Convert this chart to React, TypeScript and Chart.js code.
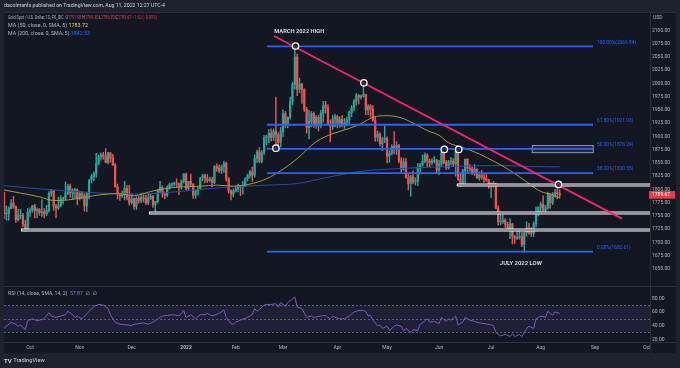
import React, { useEffect, useRef } from "react";
import { Chart, registerables } from "chart.js";
Chart.register(...registerables);

type Candle = [number, number, number, number]; // open, high, low, close

// Daily candles, Gold Spot / USD (FX_IDC). Bar index 0 = 1 Oct 2021 (trading days).
const sep2021: Candle[] = [
  [1794, 1795, 1745, 1754], [1754, 1769, 1742, 1754], [1754, 1767, 1742, 1764], [1764, 1781, 1763, 1774],
  [1774, 1787, 1764, 1768], [1768, 1769, 1737, 1743], [1743, 1763, 1740, 1750], [1750, 1762, 1744, 1751],
  [1751, 1755, 1729, 1734], [1734, 1742, 1721, 1726], [1726, 1764, 1723, 1757],
];
const oct2021: Candle[] = [
  [1757, 1765, 1749, 1761], [1761, 1770, 1757, 1769], [1769, 1772, 1746, 1760], [1760, 1765, 1746, 1762],
  [1762, 1764, 1751, 1756], [1756, 1781, 1749, 1757], [1757, 1764, 1746, 1754], [1754, 1770, 1750, 1760],
  [1760, 1796, 1757, 1793], [1793, 1800, 1787, 1797], [1797, 1798, 1760, 1768], [1768, 1772, 1746, 1765],
  [1765, 1785, 1762, 1769], [1769, 1788, 1767, 1782], [1782, 1785, 1772, 1784], [1784, 1814, 1780, 1793],
  [1793, 1810, 1790, 1806], [1806, 1810, 1785, 1793], [1793, 1801, 1782, 1798], [1798, 1802, 1783, 1799],
  [1799, 1801, 1771, 1783],
];
const nov2021: Candle[] = [
  [1783, 1797, 1780, 1793], [1793, 1796, 1782, 1788], [1788, 1792, 1759, 1769], [1769, 1795, 1758, 1792],
  [1792, 1818, 1782, 1818], [1818, 1828, 1812, 1824], [1824, 1833, 1816, 1830], [1830, 1868, 1823, 1849],
  [1849, 1865, 1846, 1862], [1862, 1869, 1855, 1865], [1865, 1870, 1857, 1863], [1863, 1877, 1850, 1851],
  [1851, 1870, 1848, 1869], [1869, 1870, 1851, 1859], [1859, 1866, 1845, 1846], [1846, 1849, 1804, 1805],
  [1805, 1810, 1782, 1790], [1790, 1793, 1779, 1788], [1788, 1797, 1785, 1790], [1790, 1815, 1780, 1802],
  [1802, 1807, 1780, 1785], [1785, 1808, 1770, 1775],
];
const dec2021: Candle[] = [
  [1775, 1792, 1772, 1782], [1782, 1784, 1762, 1768], [1768, 1786, 1762, 1783], [1783, 1787, 1774, 1779],
  [1779, 1793, 1775, 1785], [1785, 1793, 1776, 1783], [1783, 1789, 1771, 1775], [1775, 1791, 1771, 1783],
  [1783, 1792, 1781, 1787], [1787, 1789, 1766, 1771], [1771, 1778, 1753, 1777], [1777, 1800, 1774, 1798],
  [1798, 1815, 1794, 1804], [1804, 1807, 1785, 1791], [1791, 1795, 1782, 1789], [1789, 1807, 1786, 1803],
  [1803, 1812, 1800, 1809], [1809, 1812, 1805, 1811], [1811, 1814, 1806, 1811], [1811, 1820, 1805, 1810],
  [1810, 1812, 1790, 1805], [1805, 1818, 1800, 1815], [1815, 1830, 1812, 1829],
];
const jan2022: Candle[] = [
  [1829, 1831, 1799, 1801], [1801, 1815, 1798, 1815], [1815, 1829, 1806, 1810], [1810, 1811, 1783, 1789],
  [1789, 1799, 1783, 1797], [1797, 1805, 1789, 1801], [1801, 1822, 1800, 1822], [1822, 1829, 1816, 1826],
  [1826, 1829, 1812, 1821], [1821, 1828, 1813, 1817], [1817, 1823, 1814, 1819], [1819, 1823, 1805, 1813],
  [1813, 1845, 1811, 1843], [1843, 1848, 1834, 1840], [1840, 1846, 1831, 1835], [1835, 1846, 1830, 1843],
  [1843, 1853, 1832, 1849], [1849, 1851, 1816, 1820], [1820, 1822, 1793, 1797], [1797, 1799, 1780, 1791],
  [1791, 1801, 1786, 1797],
];
const feb2022: Candle[] = [
  [1797, 1807, 1795, 1801], [1801, 1810, 1795, 1807], [1807, 1808, 1788, 1805], [1805, 1815, 1791, 1807],
  [1807, 1822, 1805, 1820], [1820, 1829, 1816, 1826], [1826, 1836, 1821, 1833], [1833, 1842, 1815, 1827],
  [1827, 1865, 1823, 1859], [1859, 1874, 1851, 1871], [1871, 1879, 1850, 1853], [1853, 1873, 1850, 1870],
  [1870, 1902, 1866, 1898], [1898, 1902, 1884, 1898], [1898, 1913, 1888, 1906], [1906, 1914, 1891, 1898],
  [1898, 1914, 1892, 1910], [1910, 1974, 1878, 1903], [1903, 1907, 1878, 1889], [1889, 1917, 1880, 1909],
];
const mar2022: Candle[] = [
  [1909, 1950, 1900, 1943], [1943, 1947, 1917, 1922], [1922, 1937, 1916, 1936], [1936, 1974, 1933, 1966],
  [1966, 2002, 1960, 1998], [1998, 2070, 1989, 2050], [2050, 2055, 1977, 1989], [1989, 2010, 1982, 1999],
  [1999, 2000, 1962, 1988], [1988, 1990, 1947, 1951], [1951, 1955, 1906, 1917], [1917, 1949, 1895, 1928],
  [1928, 1947, 1918, 1943], [1943, 1946, 1917, 1921], [1921, 1939, 1915, 1936], [1936, 1940, 1910, 1921],
  [1921, 1949, 1916, 1944], [1944, 1966, 1927, 1958], [1958, 1966, 1944, 1954], [1954, 1960, 1921, 1922],
  [1922, 1931, 1890, 1919], [1919, 1940, 1913, 1933], [1933, 1942, 1918, 1937],
];
const apr2022: Candle[] = [
  [1937, 1940, 1916, 1925], [1925, 1937, 1917, 1932], [1932, 1939, 1918, 1923], [1923, 1934, 1915, 1925],
  [1925, 1937, 1920, 1931], [1931, 1948, 1922, 1945], [1945, 1958, 1937, 1954], [1954, 1970, 1948, 1966],
  [1966, 1981, 1959, 1977], [1977, 1979, 1961, 1974], [1974, 1978, 1970, 1976], [1976, 1998, 1974, 1979],
  [1979, 1980, 1941, 1950], [1950, 1960, 1941, 1957], [1957, 1960, 1936, 1951], [1951, 1958, 1928, 1931],
  [1931, 1936, 1891, 1898], [1898, 1910, 1891, 1904], [1904, 1907, 1882, 1886], [1886, 1898, 1873, 1894],
  [1894, 1920, 1888, 1896],
];
const may2022: Candle[] = [
  [1896, 1899, 1850, 1863], [1863, 1873, 1851, 1868], [1868, 1884, 1865, 1881], [1881, 1909, 1867, 1876],
  [1876, 1890, 1866, 1883], [1883, 1885, 1850, 1854], [1854, 1860, 1832, 1838], [1838, 1859, 1836, 1852],
  [1852, 1858, 1821, 1822], [1822, 1829, 1799, 1811], [1811, 1827, 1787, 1824], [1824, 1835, 1811, 1815],
  [1815, 1822, 1808, 1816], [1816, 1849, 1807, 1841], [1841, 1849, 1832, 1846], [1846, 1865, 1844, 1853],
  [1853, 1869, 1850, 1865], [1865, 1867, 1843, 1853], [1853, 1857, 1842, 1851], [1851, 1858, 1846, 1853],
  [1853, 1862, 1850, 1855], [1855, 1857, 1830, 1837],
];
const jun2022: Candle[] = [
  [1837, 1855, 1828, 1848], [1848, 1874, 1843, 1869], [1869, 1872, 1848, 1851], [1851, 1855, 1837, 1841],
  [1841, 1855, 1838, 1852], [1852, 1860, 1846, 1853], [1853, 1858, 1843, 1848], [1848, 1877, 1825, 1871],
  [1871, 1878, 1817, 1819], [1819, 1830, 1805, 1808], [1808, 1838, 1806, 1835], [1835, 1857, 1811, 1857],
  [1857, 1858, 1833, 1840], [1840, 1847, 1834, 1839], [1839, 1842, 1828, 1832], [1832, 1847, 1826, 1838],
  [1838, 1839, 1820, 1822], [1822, 1833, 1817, 1827], [1827, 1836, 1819, 1823], [1823, 1829, 1813, 1820],
  [1820, 1828, 1815, 1817], [1817, 1819, 1802, 1807],
];
const jul2022: Candle[] = [
  [1807, 1813, 1785, 1811], [1811, 1815, 1804, 1808], [1808, 1812, 1764, 1764], [1764, 1769, 1733, 1739],
  [1739, 1752, 1733, 1740], [1740, 1752, 1736, 1742], [1742, 1745, 1728, 1734], [1734, 1738, 1722, 1725],
  [1725, 1745, 1707, 1735], [1735, 1736, 1697, 1711], [1711, 1713, 1698, 1708], [1708, 1724, 1705, 1709],
  [1709, 1723, 1706, 1711], [1711, 1719, 1692, 1696], [1696, 1720, 1681, 1718], [1718, 1739, 1712, 1727],
  [1727, 1736, 1715, 1719], [1719, 1728, 1711, 1717], [1717, 1739, 1711, 1735], [1735, 1767, 1729, 1756],
  [1756, 1767, 1750, 1766],
];
const aug2022: Candle[] = [
  [1766, 1776, 1754, 1772], [1772, 1788, 1759, 1760], [1760, 1770, 1754, 1765], [1765, 1795, 1762, 1791],
  [1791, 1792, 1764, 1775], [1775, 1794, 1771, 1789], [1789, 1800, 1785, 1794], [1794, 1807, 1782, 1792],
  [1791.98, 1799.3, 1783.7, 1789.67],
];
const candleMonths: Candle[][] = [sep2021, oct2021, nov2021, dec2021, jan2022, feb2022, mar2022, apr2022, may2022, jun2022, jul2022, aug2022];
const FIRST_BAR = -11;

// time axis
const monthTickBars = [0, 21, 43, 66, 87, 107, 130, 151, 173, 195, 216, 239, 261];
const monthTickLabels = ["Oct", "Nov", "Dec", "2022", "Feb", "Mar", "Apr", "May", "Jun", "Jul", "Aug", "Sep", "Oct"];
const X_MIN = -11.0;
const X_MAX = 262.2;

// price axis
const priceTicks = [1650, 1675, 1700, 1725, 1750, 1775, 1800, 1825, 1850, 1875, 1900, 1925, 1950, 1975, 2000, 2025, 2050, 2075, 2100];
const PRICE_MIN = 1627.2;
const PRICE_MAX = 2134.6;

// moving averages
const ma50Bars = [-11, -4, 4, 10, 16, 23, 30, 37, 44, 51, 58, 65, 72, 79, 86, 93, 100, 107, 113, 121, 128, 135, 140, 145, 151, 157, 162, 168, 173, 177, 183, 190, 197, 204, 210, 216, 221, 224];
const ma50Values = [1799, 1793, 1786, 1779, 1780, 1785, 1790, 1792, 1788, 1796, 1802, 1805, 1806, 1808, 1806, 1810, 1820, 1838, 1858, 1890, 1905, 1915, 1924, 1936, 1939, 1935, 1925, 1911, 1902, 1888, 1879, 1867, 1851, 1833, 1814, 1796, 1790, 1783.72];
const ma200Bars = [-11, 1, 16, 30, 44, 58, 72, 86, 100, 113, 125, 140, 155, 170, 185, 200, 212, 224];
const ma200Values = [1807, 1802, 1797, 1793, 1791, 1794, 1800, 1805, 1808, 1811, 1822, 1834, 1839, 1842, 1844, 1845, 1843, 1842.53];

// RSI (14)
const rsiBars = [-11, -8, -6, -5, -4, -2, -1, 1, 3, 6, 8, 9, 11, 13, 15, 16, 18, 19, 20, 22, 25, 27, 29, 31, 33, 34, 36, 38, 41, 43, 44, 46, 48, 50, 52, 54, 56, 58, 61, 63, 65, 66, 68, 70, 72, 74, 75, 77, 80, 82, 83, 85, 86, 87, 89, 92, 94, 95, 96, 99, 100, 102, 104, 105, 106, 108, 109, 111, 112, 113, 115, 117, 119, 120, 123, 125, 126, 127, 128, 129, 131, 133, 135, 137, 139, 141, 142, 143, 144, 145, 147, 148, 149, 151, 152, 154, 155, 157, 158, 159, 161, 162, 164, 165, 166, 168, 169, 171, 173, 174, 176, 177, 178, 180, 181, 183, 184, 186, 188, 190, 192, 195, 196, 197, 199, 201, 203, 204, 205, 207, 208, 210, 211, 213, 214, 216, 218, 219, 221, 222, 224];
const rsiValues = [36, 45, 42, 39, 41, 34, 47, 50, 47, 50, 59, 54, 52, 54, 56, 61, 56, 52, 54, 50, 61, 68, 71, 70, 65, 56, 45, 42, 41, 40, 42, 43, 44, 42, 45, 50, 54, 55, 56, 54, 62, 52, 56, 50, 56, 56, 58, 54, 58, 63, 52, 43, 42, 45, 48, 52, 56, 65, 61, 70, 71, 71, 72, 67, 74, 68, 74, 79, 82, 67, 65, 52, 54, 52, 54, 55, 52, 50, 54, 52, 50, 50, 54, 60, 62, 62, 61, 54, 55, 48, 40, 41, 36, 39, 33, 39, 41, 39, 32, 36, 30, 34, 33, 42, 44, 50, 45, 46, 43, 52, 46, 50, 48, 54, 41, 45, 52, 48, 46, 44, 43, 41, 40, 30, 25, 27, 24, 28, 24, 27, 24, 36, 39, 36, 50, 54, 52, 61, 55, 60, 57.87];
const rsiTicks = [20, 40, 60, 80];
const RSI_MIN = 16;
const RSI_MAX = 90.7;
const rsiBand = [30, 50, 70];

// drawings
const fibLabels = ["100.00%", "61.80%", "50.00%", "38.20%", "0.00%"];
const fibPrices = [2069.84, 1921.93, 1876.24, 1830.55, 1682.61];
const fibFromBar = 100.2;
const fibToBar = 238.1;
const supportPrices = [1808.7, 1755.0, 1723.5];
const supportFromBars = [180.5, 50.3, -3.8];
const trendBars = [103.2, 250.3];
const trendPrices = [2089.3, 1744.8];
const markerBars = [112.3, 141.2, 104.0, 175.2, 181.3, 223.5];
const markerPrices = [2070.5, 2001.0, 1877.8, 1875.4, 1875.4, 1809.3];
const boxBars = [212.4, 238.2];
const boxPrices = [1882.8, 1869.3];
const noteTexts = ["MARCH 2022 HIGH", "JULY 2022 LOW"];
const noteBars = [103.3, 198.7];
const notePrices = [2097.6, 1660.6];

const headerText = "dacolmanfx published on TradingView.com, Aug 11, 2022 12:27 UTC-4";
const symbolText = "Gold Spot / U.S. Dollar, 1D, FX_IDC";
const lastOHLC = ["1791.98", "1799.30", "1783.70", "1789.67"];
const lastClose = 1789.67;
const lastChange = "\u22121.62 (\u22120.09%)";
const ma50Label = "MA (50, close, 0, SMA, 5)";
const ma200Label = "MA (200, close, 0, SMA, 5)";
const rsiLabel = "RSI (14, close, SMA, 14, 2)";
const rsiLastText = "57.87";

const FONT = "Roboto, 'Noto Sans', 'DejaVu Sans', sans-serif";
const OUTER_BG = "#1e222d";
const PANE_BG = "#131722";
const BORDER = "#2a2e39";
const TEXT = "#b2b5be";
const UP = "#26a69a";
const DOWN = "#ef5350";

type Run = { t: string; c: string };
function fitRuns(ctx: CanvasRenderingContext2D, runs: Run[], x: number, y: number, width: number, font: string) {
  ctx.save();
  ctx.font = font;
  const total = runs.reduce((s, r) => s + ctx.measureText(r.t).width, 0);
  ctx.translate(x, y);
  ctx.scale(width / total, 1);
  ctx.textBaseline = "middle";
  ctx.textAlign = "left";
  let cx = 0;
  for (const r of runs) {
    ctx.fillStyle = r.c;
    ctx.fillText(r.t, cx, 0);
    cx += ctx.measureText(r.t).width;
  }
  ctx.restore();
}

const pricePanePlugin = {
  id: "pricePane",
  beforeDraw(chart: any) {
    const ctx = chart.ctx as CanvasRenderingContext2D;
    ctx.save();
    ctx.fillStyle = OUTER_BG;
    ctx.fillRect(0, 0, chart.width, chart.height);
    ctx.fillStyle = PANE_BG;
    ctx.fillRect(4, 12, 672, chart.height - 12);
    ctx.restore();
  },
  afterDatasetsDraw(chart: any) {
    const ctx = chart.ctx as CanvasRenderingContext2D;
    const a = chart.chartArea;
    const xs = chart.scales.x;
    const ys = chart.scales.y;
    ctx.save();
    ctx.beginPath();
    ctx.rect(a.left, a.top, a.right - a.left, a.bottom - a.top);
    ctx.clip();

    // box
    const bx0 = xs.getPixelForValue(boxBars[0]);
    const bx1 = xs.getPixelForValue(boxBars[1]);
    const by0 = ys.getPixelForValue(boxPrices[0]);
    const by1 = ys.getPixelForValue(boxPrices[1]);
    ctx.fillStyle = "rgba(120,123,134,0.18)";
    ctx.fillRect(bx0, by0, bx1 - bx0, by1 - by0);
    ctx.strokeStyle = "#9598a1";
    ctx.lineWidth = 1;
    ctx.strokeRect(bx0, by0, bx1 - bx0, by1 - by0);

    // white support lines (double stroke look)
    supportPrices.forEach((p, i) => {
      const yy = Math.round(ys.getPixelForValue(p));
      const x0 = xs.getPixelForValue(supportFromBars[i]);
      ctx.fillStyle = "#ffffff";
      ctx.fillRect(x0, yy - 1.5, a.right - x0, 3);
      ctx.fillStyle = "#2c2f38";
      ctx.fillRect(x0 + 1, yy - 0.5, a.right - x0 - 1, 1);
    });

    // fibonacci levels
    const fx0 = xs.getPixelForValue(fibFromBar);
    const fx1 = xs.getPixelForValue(fibToBar);
    fibPrices.forEach((p, i) => {
      const yy = ys.getPixelForValue(p);
      ctx.beginPath();
      ctx.moveTo(fx0, yy);
      ctx.lineTo(fx1, yy);
      ctx.strokeStyle = "#2962ff";
      ctx.lineWidth = 1.8;
      ctx.stroke();
      ctx.font = `4.8px ${FONT}`;
      ctx.fillStyle = "#2962ff";
      ctx.textBaseline = "middle";
      ctx.textAlign = "left";
      ctx.fillText(`${fibLabels[i]}(${p.toFixed(2)})`, fx1 + 4, yy - 4);
    });

    // trend line
    ctx.beginPath();
    ctx.moveTo(xs.getPixelForValue(trendBars[0]), ys.getPixelForValue(trendPrices[0]));
    ctx.lineTo(xs.getPixelForValue(trendBars[1]), ys.getPixelForValue(trendPrices[1]));
    ctx.strokeStyle = "#f0266b";
    ctx.lineWidth = 1.8;
    ctx.stroke();

    // circle markers
    markerBars.forEach((b, i) => {
      ctx.beginPath();
      ctx.arc(xs.getPixelForValue(b), ys.getPixelForValue(markerPrices[i]), 3.2, 0, Math.PI * 2);
      ctx.fillStyle = "rgba(19,23,34,0.6)";
      ctx.fill();
      ctx.strokeStyle = "#ffffff";
      ctx.lineWidth = 1.3;
      ctx.stroke();
    });

    // notes
    const noteW = [50, 42];
    noteTexts.forEach((t, i) => {
      fitRuns(ctx, [{ t, c: "#d1d4dc" }], xs.getPixelForValue(noteBars[i]), ys.getPixelForValue(notePrices[i]), noteW[i], `bold 6px ${FONT}`);
    });
    ctx.restore();
  },
  afterDraw(chart: any) {
    const ctx = chart.ctx as CanvasRenderingContext2D;
    const ys = chart.scales.y;
    ctx.save();
    // borders
    ctx.strokeStyle = BORDER;
    ctx.lineWidth = 1;
    ctx.beginPath();
    ctx.moveTo(650.5, 12);
    ctx.lineTo(650.5, chart.height);
    ctx.moveTo(4, 12.5);
    ctx.lineTo(676, 12.5);
    ctx.stroke();

    // header
    fitRuns(ctx, [{ t: headerText, c: "#d1d4dc" }], 4, 6, 161, `5px ${FONT}`);
    // legend
    const red = "#f23645";
    fitRuns(ctx, [
      { t: symbolText + "  ", c: TEXT },
      { t: "O", c: TEXT }, { t: lastOHLC[0], c: red },
      { t: " H", c: TEXT }, { t: lastOHLC[1], c: red },
      { t: " L", c: TEXT }, { t: lastOHLC[2], c: red },
      { t: " C", c: TEXT }, { t: lastOHLC[3], c: red },
      { t: " " + lastChange, c: red },
    ], 8, 17.5, 149, `5px ${FONT}`);
    fitRuns(ctx, [{ t: ma50Label + " ", c: TEXT }, { t: "1783.72", c: "#f5d33b" }], 8, 25.5, 80, `5px ${FONT}`);
    fitRuns(ctx, [{ t: ma200Label + " ", c: TEXT }, { t: "1842.53", c: "#2f66ff" }], 8, 33.5, 82, `5px ${FONT}`);

    // axis unit
    ctx.font = `5px ${FONT}`;
    ctx.fillStyle = TEXT;
    ctx.textBaseline = "middle";
    ctx.textAlign = "left";
    ctx.fillText("USD", 653, 17.5);

    // last price label
    const py = ys.getPixelForValue(lastClose);
    ctx.fillStyle = "#f23645";
    ctx.fillRect(649, py - 3.8, 26, 7.6);
    ctx.fillStyle = "#ffffff";
    ctx.fillText(lastClose.toFixed(2), 652, py + 0.2);
    ctx.restore();
  },
};

const rsiPanePlugin = {
  id: "rsiPane",
  beforeDraw(chart: any) {
    const ctx = chart.ctx as CanvasRenderingContext2D;
    ctx.save();
    ctx.fillStyle = OUTER_BG;
    ctx.fillRect(0, 0, chart.width, chart.height);
    ctx.fillStyle = PANE_BG;
    ctx.fillRect(4, 0, 672, 67);
    ctx.restore();
  },
  beforeDatasetsDraw(chart: any) {
    const ctx = chart.ctx as CanvasRenderingContext2D;
    const a = chart.chartArea;
    const ys = chart.scales.y;
    const yTop = ys.getPixelForValue(rsiBand[2]);
    const yBot = ys.getPixelForValue(rsiBand[0]);
    ctx.save();
    ctx.fillStyle = "rgba(126,87,194,0.12)";
    ctx.fillRect(a.left, yTop, a.right - a.left, yBot - yTop);
    ctx.setLineDash([2, 2]);
    ctx.strokeStyle = "rgba(120,123,134,0.7)";
    ctx.lineWidth = 1;
    rsiBand.forEach((v) => {
      const yy = Math.round(ys.getPixelForValue(v)) + 0.5;
      ctx.beginPath();
      ctx.moveTo(a.left, yy);
      ctx.lineTo(a.right, yy);
      ctx.stroke();
    });
    ctx.restore();
  },
  afterDraw(chart: any) {
    const ctx = chart.ctx as CanvasRenderingContext2D;
    ctx.save();
    // clip last time label at pane edge
    ctx.fillStyle = PANE_BG;
    ctx.fillRect(651, 56.5, 25, 10.5);
    ctx.strokeStyle = BORDER;
    ctx.lineWidth = 1;
    ctx.beginPath();
    ctx.moveTo(4, 0.5);
    ctx.lineTo(676, 0.5);
    ctx.moveTo(4, 56.5);
    ctx.lineTo(676, 56.5);
    ctx.moveTo(650.5, 0);
    ctx.lineTo(650.5, 67);
    ctx.stroke();

    fitRuns(ctx, [
      { t: rsiLabel + "  ", c: TEXT },
      { t: rsiLastText, c: "#9575cd" },
      { t: "  \u2205  \u2205", c: TEXT },
    ], 8, 7.5, 89, `5px ${FONT}`);

    // TradingView logo text
    ctx.fillStyle = "#d1d4dc";
    ctx.textBaseline = "middle";
    ctx.textAlign = "left";
    ctx.font = `bold 6px ${FONT}`;
    ctx.fillText("TV", 4, 75);
    fitRuns(ctx, [{ t: "TradingView", c: "#d1d4dc" }], 13.3, 75, 31.5, `5.5px ${FONT}`);
    ctx.restore();
  },
};

export default function App() {
  const priceRef = useRef<HTMLCanvasElement | null>(null);
  const rsiRef = useRef<HTMLCanvasElement | null>(null);

  useEffect(() => {
    const candles = candleMonths.flat();
    const bodies = candles.map((c, i) => ({ x: FIRST_BAR + i, y: [c[0], c[3]] }));
    const wicks = candles.map((c, i) => ({ x: FIRST_BAR + i, y: [c[2], c[1]] }));
    const colors = candles.map((c) => (c[3] >= c[0] ? UP : DOWN));

    const xBase: any = {
      type: "linear",
      min: X_MIN,
      max: X_MAX,
      offset: false,
      grid: { display: false, drawTicks: false },
      border: { display: false },
    };

    const priceChart = new Chart(priceRef.current!, {
      type: "bar",
      data: {
        datasets: [
          {
            type: "line",
            data: ma50Bars.map((b, i) => ({ x: b, y: ma50Values[i] })),
            borderColor: "#a8983a",
            borderWidth: 1,
            pointRadius: 0,
            cubicInterpolationMode: "monotone",
            order: 0,
          } as any,
          {
            type: "line",
            data: ma200Bars.map((b, i) => ({ x: b, y: ma200Values[i] })),
            borderColor: "#2e4aa6",
            borderWidth: 1,
            pointRadius: 0,
            cubicInterpolationMode: "monotone",
            order: 0,
          } as any,
          {
            type: "bar",
            data: bodies as any,
            backgroundColor: colors,
            barThickness: 1.6,
            minBarLength: 0.7,
            grouped: false,
            order: 1,
          } as any,
          {
            type: "bar",
            data: wicks as any,
            backgroundColor: colors,
            barThickness: 0.8,
            grouped: false,
            order: 2,
          } as any,
        ],
      },
      options: {
        responsive: false,
        maintainAspectRatio: false,
        animation: false,
        events: [],
        layout: { padding: { left: 4, right: 4, top: 12, bottom: 0 } },
        plugins: { legend: { display: false }, tooltip: { enabled: false } },
        scales: {
          x: { ...xBase, display: false },
          y: {
            type: "linear",
            position: "right",
            min: PRICE_MIN,
            max: PRICE_MAX,
            beginAtZero: false,
            grid: { display: false, drawTicks: false },
            border: { display: false },
            afterBuildTicks: (s: any) => {
              s.ticks = priceTicks.map((v) => ({ value: v }));
            },
            afterFit: (s: any) => {
              s.width = 26;
            },
            ticks: {
              padding: 2,
              color: TEXT,
              font: { family: FONT, size: 5 },
              callback: (v: any) => Number(v).toFixed(2),
            },
          },
        },
      } as any,
      plugins: [pricePanePlugin],
    });

    const rsiChart = new Chart(rsiRef.current!, {
      type: "line",
      data: {
        datasets: [
          {
            data: rsiBars.map((b, i) => ({ x: b, y: rsiValues[i] })),
            borderColor: "#7e57c2",
            borderWidth: 1,
            pointRadius: 0,
            tension: 0,
          },
        ],
      },
      options: {
        responsive: false,
        maintainAspectRatio: false,
        animation: false,
        events: [],
        layout: { padding: { left: 4, right: 4, top: 0, bottom: 15 } },
        plugins: { legend: { display: false }, tooltip: { enabled: false } },
        scales: {
          x: {
            ...xBase,
            position: "bottom",
            afterBuildTicks: (s: any) => {
              s.ticks = monthTickBars.map((v) => ({ value: v }));
            },
            afterFit: (s: any) => {
              s.height = 11;
            },
            ticks: {
              autoSkip: false,
              maxRotation: 0,
              padding: 3,
              color: TEXT,
              font: (c: any) => ({ family: FONT, size: 5, weight: c.tick && c.tick.value === 66 ? "bold" : "normal" }),
              callback: (v: any) => {
                const i = monthTickBars.indexOf(Number(v));
                return i >= 0 ? monthTickLabels[i] : "";
              },
            },
          },
          y: {
            type: "linear",
            position: "right",
            min: RSI_MIN,
            max: RSI_MAX,
            grid: { display: false, drawTicks: false },
            border: { display: false },
            afterBuildTicks: (s: any) => {
              s.ticks = rsiTicks.map((v) => ({ value: v }));
            },
            afterFit: (s: any) => {
              s.width = 26;
            },
            ticks: {
              padding: 2,
              color: TEXT,
              font: { family: FONT, size: 5 },
              callback: (v: any) => Number(v).toFixed(2),
            },
          },
        },
      } as any,
      plugins: [rsiPanePlugin],
    });

    return () => {
      priceChart.destroy();
      rsiChart.destroy();
    };
  }, []);

  return (
    <div style={{ position: "absolute", left: 0, top: 0, width: 680, height: 368, background: OUTER_BG, overflow: "hidden" }}>
      <canvas ref={priceRef} width={680} height={286} style={{ position: "absolute", left: 0, top: 0 }} />
      <canvas ref={rsiRef} width={680} height={82} style={{ position: "absolute", left: 0, top: 286 }} />
    </div>
  );
}
